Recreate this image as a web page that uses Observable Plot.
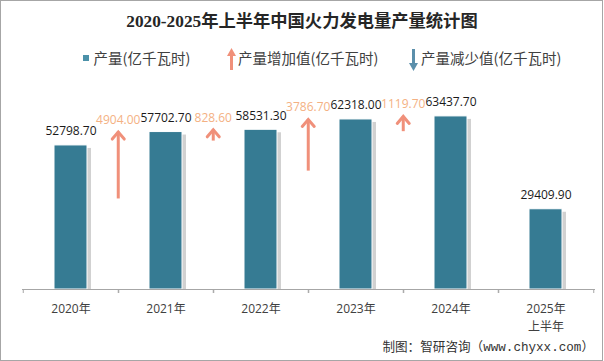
<!DOCTYPE html>
<html><head><meta charset="utf-8">
<script src="https://cdn.jsdelivr.net/npm/d3@7"></script>
<script src="https://cdn.jsdelivr.net/npm/@observablehq/plot@0.6"></script>
<style>
html,body{margin:0;padding:0;background:#fff;}
#wrap{position:relative;width:604px;height:361px;overflow:hidden;font-family:"Noto Sans CJK SC",sans-serif;background:#fff;}
#border{position:absolute;left:0;top:0;width:603px;height:361px;box-sizing:border-box;border:1px solid #a6a6a6;pointer-events:none;}
#title{position:absolute;left:0;top:12px;width:604px;text-align:center;font-size:17.3px;font-weight:bold;line-height:20px;color:#262626;font-family:"Liberation Serif","Noto Sans CJK SC",serif;white-space:nowrap;}
.lg{position:absolute;font-size:14.5px;line-height:18px;top:49px;color:#404040;white-space:nowrap;}
.sw{position:absolute;}
#caption{position:absolute;right:10px;top:339px;font-size:12.6px;line-height:18px;color:#333;font-family:"Liberation Mono","Noto Sans CJK SC",monospace;white-space:nowrap;}
#chart{position:absolute;left:0;top:0;}
</style></head>
<body>
<div id="wrap">
  <div id="chart"></div>
  <div id="title"></div>
  <div class="sw" style="left:83px;top:55px;width:6px;height:6px;background:#4b91a9;"></div>
  <div class="lg" id="lg1" style="left:93.5px;"></div>
  <svg class="sw" style="left:226.5px;top:48px;" width="9" height="22"><polygon points="0,8 4.5,0 9,8" fill="#f0907a"/><rect x="3" y="6" width="3" height="16" fill="#f0907a"/></svg>
  <div class="lg" id="lg2" style="left:238px;"></div>
  <svg class="sw" style="left:408.5px;top:49px;" width="9" height="22"><polygon points="0,14 4.5,22 9,14" fill="#5b8fab"/><rect x="3" y="0" width="3" height="16" fill="#5b8fab"/></svg>
  <div class="lg" id="lg3" style="left:421px;"></div>
  <div id="caption"></div>
  <div id="border"></div>
</div>
<script>
// ---- data ----
const titleText = "2020-2025年上半年中国火力发电量产量统计图";
const legendLabels = ["产量(亿千瓦时)", "产量增加值(亿千瓦时)", "产量减少值(亿千瓦时)"];
const captionText = "制图：智研咨询（www.chyxx.com）";
const years = ["2020", "2021", "2022", "2023", "2024", "2025H1"];
const tickLabels = ["2020年", "2021年", "2022年", "2023年", "2024年", "2025年\n上半年"];
const output = [52798.70, 57702.70, 58531.30, 62318.00, 63437.70, 29409.90];
const increaseYears = ["2021", "2022", "2023", "2024"];
const increases = [4904.00, 828.60, 3786.70, 1119.70];

// ---- text ----
document.getElementById("title").textContent = titleText;
document.getElementById("lg1").textContent = legendLabels[0];
document.getElementById("lg2").textContent = legendLabels[1];
document.getElementById("lg3").textContent = legendLabels[2];
document.getElementById("caption").textContent = captionText;

// ---- chart ----
const W = 604, H = 361;
const mL = 22, mR = 9, mT = 98, mB = 72;
const step = (W - mL - mR) / years.length;
const arrowScale = 5; // arrow length relative to the bar scale
const barColor = "#367b93";
const upColor = "#f0907a";
const upLabelColor = "#f4b183";

const bars = years.map((y, i) => ({year: y, value: output[i]}));
const outByYear = new Map(bars.map(d => [d.year, d.value]));
const arrows = increaseYears.map((y, i) => ({
  year: y,
  inc: increases[i],
  tip: outByYear.get(y),
  tail: outByYear.get(y) - increases[i] * arrowScale
}));
const labelOf = new Map(years.map((y, i) => [y, tickLabels[i]]));

const chevron = {
  draw(context) {
    context.moveTo(-6, 7);
    context.lineTo(0, 0);
    context.lineTo(6, 7);
  }
};

const chart = Plot.plot({
  width: W, height: H,
  marginLeft: mL, marginRight: mR, marginTop: mT, marginBottom: mB,
  style: {fontFamily: "'Open Sans','Noto Sans CJK SC',sans-serif", fontSize: "12px", background: "transparent", overflow: "visible"},
  x: {type: "band", domain: years, paddingInner: 0.65, paddingOuter: 0.325, axis: null, label: null},
  y: {domain: [0, 70000], axis: null, label: null},
  marks: [
    Plot.barY(bars, {x: "year", y: "value", dx: 4, insetTop: 3, fill: "#bdbdbd", fillOpacity: 0.7}),
    Plot.barY(bars, {x: "year", y: "value", fill: barColor, stroke: "white", strokeWidth: 1}),
    Plot.ruleY([0], {stroke: "#a6a6a6"}),
    Plot.axisX({tickSize: 4, tickFormat: () => "", label: null, dx: -step / 2, stroke: "#a6a6a6"}),
    Plot.axisX({tickSize: 4, tickFormat: () => "", label: null, dx: step / 2, stroke: "#a6a6a6"}),
    Plot.axisX({tickSize: 0, tickPadding: 11, label: null, tickFormat: d => labelOf.get(d), fontSize: 12, fill: "#404040", lineHeight: 1.5}),
    Plot.text(bars, {x: "year", y: "value", text: d => d.value.toFixed(2), dy: -14, fontSize: 12, fill: "#1a1a1a"}),
    Plot.ruleX(arrows, {x: "year", y1: "tail", y2: "tip", dx: -step / 2, stroke: upColor, strokeWidth: 3}),
    Plot.vector(arrows, {x: "year", y: "tip", dx: -step / 2, length: 10, rotate: 0, anchor: "start", shape: chevron, stroke: upColor, strokeWidth: 3, strokeLinejoin: "miter"}),
    Plot.text(arrows, {x: "year", y: "tip", text: d => d.inc.toFixed(2), dx: -step / 2, dy: -12, fontSize: 12, fill: upLabelColor})
  ]
});
document.getElementById("chart").appendChild(chart);
</script>
</body></html>
